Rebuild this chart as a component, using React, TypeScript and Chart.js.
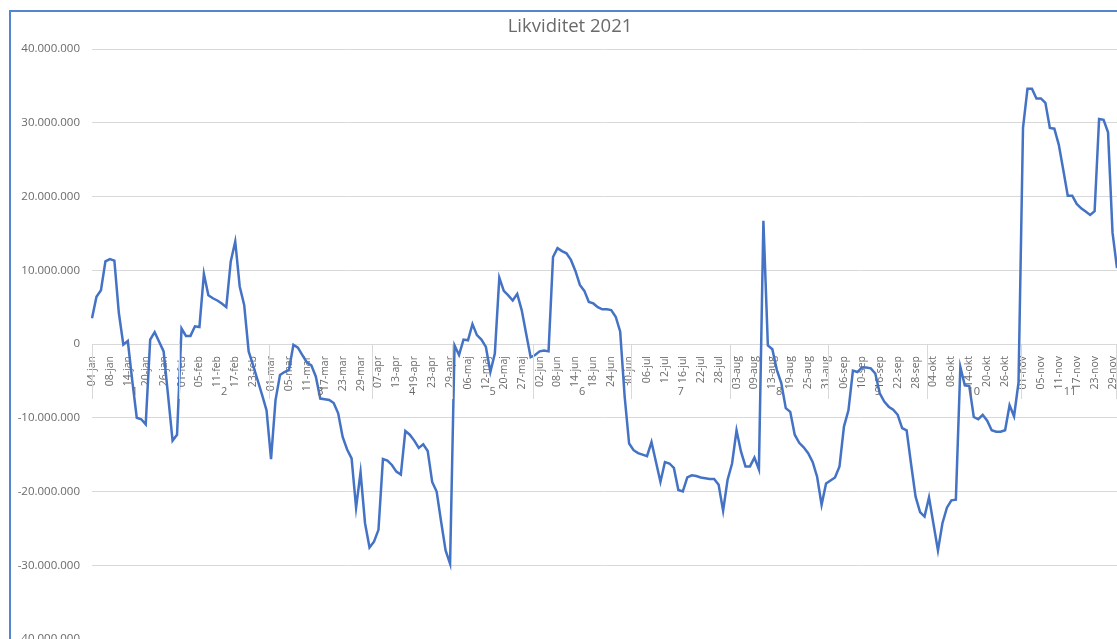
import React, { useEffect, useRef } from 'react';
import { Chart, registerables } from 'chart.js';

Chart.register(...registerables);

const TITLE = 'Likviditet 2021';

const dates = [
  '04-jan','05-jan','06-jan','07-jan','08-jan','11-jan','12-jan','13-jan','14-jan','15-jan','18-jan','19-jan','20-jan','21-jan','22-jan','25-jan','26-jan','27-jan','28-jan','29-jan',
  '01-feb','02-feb','03-feb','04-feb','05-feb','08-feb','09-feb','10-feb','11-feb','12-feb','15-feb','16-feb','17-feb','18-feb','19-feb','22-feb','23-feb','24-feb','25-feb','26-feb',
  '01-mar','02-mar','03-mar','04-mar','05-mar','08-mar','09-mar','10-mar','11-mar','12-mar','15-mar','16-mar','17-mar','18-mar','19-mar','22-mar','23-mar','24-mar','25-mar','26-mar','29-mar','30-mar','31-mar',
  '06-apr','07-apr','08-apr','09-apr','12-apr','13-apr','14-apr','15-apr','16-apr','19-apr','20-apr','21-apr','22-apr','23-apr','26-apr','27-apr','28-apr','29-apr',
  '03-maj','04-maj','05-maj','06-maj','07-maj','10-maj','11-maj','12-maj','17-maj','18-maj','19-maj','20-maj','21-maj','25-maj','26-maj','27-maj','28-maj','31-maj',
  '01-jun','02-jun','03-jun','04-jun','07-jun','08-jun','09-jun','10-jun','11-jun','14-jun','15-jun','16-jun','17-jun','18-jun','21-jun','22-jun','23-jun','24-jun','25-jun','28-jun','29-jun','30-jun',
  '01-jul','02-jul','05-jul','06-jul','07-jul','08-jul','09-jul','12-jul','13-jul','14-jul','15-jul','16-jul','19-jul','20-jul','21-jul','22-jul','23-jul','26-jul','27-jul','28-jul','29-jul','30-jul',
  '02-aug','03-aug','04-aug','05-aug','06-aug','09-aug','10-aug','11-aug','12-aug','13-aug','16-aug','17-aug','18-aug','19-aug','20-aug','23-aug','24-aug','25-aug','26-aug','27-aug','30-aug','31-aug',
  '01-sep','02-sep','03-sep','06-sep','07-sep','08-sep','09-sep','10-sep','13-sep','14-sep','15-sep','16-sep','17-sep','20-sep','21-sep','22-sep','23-sep','24-sep','27-sep','28-sep','29-sep','30-sep',
  '01-okt','04-okt','05-okt','06-okt','07-okt','08-okt','11-okt','12-okt','13-okt','14-okt','15-okt','18-okt','19-okt','20-okt','21-okt','22-okt','25-okt','26-okt','27-okt','28-okt','29-okt',
  '01-nov','02-nov','03-nov','04-nov','05-nov','08-nov','09-nov','10-nov','11-nov','12-nov','15-nov','16-nov','17-nov','18-nov','19-nov','22-nov','23-nov','24-nov','25-nov','26-nov','29-nov','30-nov',
];

const monthLabels = ['1', '2', '3', '4', '5', '6', '7', '8', '9', '10', '11'];

const liquidity = [
  // jan
  3500000, 6400000, 7300000, 11200000, 11500000, 11300000, 4200000, -100000, 400000, -5000000,
  -10000000, -10200000, -10900000, 600000, 1600000, 300000, -1000000, -7000000, -13100000, -12300000,
  // feb
  2100000, 1100000, 1100000, 2400000, 2300000, 9500000, 6600000, 6200000, 5900000, 5500000,
  5000000, 11200000, 13900000, 7800000, 5300000, -1000000, -2900000, -4900000, -6900000, -9000000,
  // mar
  -15600000, -7600000, -4200000, -3800000, -3500000, -100000, -500000, -1500000, -2500000, -2900000,
  -4400000, -7400000, -7500000, -7600000, -8000000, -9400000, -12600000, -14300000, -15500000, -22200000,
  -17400000, -24300000, -27600000,
  // apr
  -26800000, -25200000, -15600000, -15800000, -16400000, -17300000, -17700000, -11800000, -12300000, -13100000,
  -14100000, -13600000, -14500000, -18700000, -20000000, -24100000, -28000000, -29800000,
  // maj
  -200000, -1500000, 600000, 500000, 2700000, 1200000, 600000, -400000, -3800000, -1300000,
  9000000, 7200000, 6600000, 5900000, 6800000, 4600000, 1400000, -1800000,
  // jun
  -1500000, -1000000, -900000, -1000000, 11800000, 13000000, 12600000, 12300000, 11400000, 9900000,
  8000000, 7200000, 5700000, 5500000, 5000000, 4700000, 4700000, 4600000, 3700000, 1700000,
  -7100000, -13500000,
  // jul
  -14400000, -14800000, -15000000, -15200000, -13300000, -16000000, -18700000, -16000000, -16200000, -16800000,
  -19800000, -20000000, -18100000, -17800000, -17900000, -18100000, -18200000, -18300000, -18300000, -19100000,
  -22600000, -18400000,
  // aug
  -16200000, -11700000, -14600000, -16600000, -16600000, -15400000, -17000000, 16700000, -200000, -700000,
  -3500000, -5300000, -8700000, -9200000, -12300000, -13400000, -14000000, -14800000, -16000000, -18000000,
  -21800000, -18900000,
  // sep
  -18500000, -18100000, -16600000, -11200000, -9000000, -3600000, -3800000, -3200000, -3200000, -3300000,
  -4000000, -6700000, -7800000, -8500000, -8900000, -9600000, -11400000, -11700000, -16300000, -20700000,
  -22800000, -23400000,
  // okt
  -20800000, -24400000, -28000000, -24300000, -22200000, -21200000, -21100000, -3100000, -5600000, -5700000,
  -9900000, -10200000, -9600000, -10400000, -11700000, -11900000, -11900000, -11700000, -8300000, -9800000,
  -5200000,
  // nov
  29300000, 34600000, 34600000, 33300000, 33300000, 32700000, 29300000, 29200000, 27000000, 23600000,
  20100000, 20100000, 19000000, 18400000, 17950000, 17500000, 18000000, 30500000, 30400000, 28700000,
  15100000, 10300000,
];

const Y_MIN = -40000000;
const Y_MAX = 40000000;
const Y_STEP = 10000000;

const FONT = "'Open Sans', 'Liberation Sans', sans-serif";
const TEXT_GREY = '#6a6a6a';
const GRID_GREY = '#d9d9d9';
const LINE_BLUE = '#4472c4';

function formatThousands(v: number): string {
  const s = String(Math.abs(Math.round(v))).replace(/\B(?=(\d{3})+(?!\d))/g, '.');
  return v < 0 ? '-' + s : s;
}

// Title centred on the whole chart object (canvas), as in the Excel chart.
const titlePlugin = {
  id: 'centeredTitle',
  afterDraw(chart: any) {
    const ctx = chart.ctx;
    ctx.save();
    ctx.fillStyle = TEXT_GREY;
    ctx.font = `18.5px ${FONT}`;
    ctx.textAlign = 'center';
    ctx.textBaseline = 'middle';
    ctx.fillText(TITLE, chart.width / 2, chart.chartArea.top - 22);
    ctx.restore();
  },
};

const monthGroupPlugin = {
  id: 'monthGroups',
  afterDraw(chart: any) {
    const xs = chart.scales.x;
    const ys = chart.scales.y;
    const ctx = chart.ctx;
    const area = chart.chartArea;
    const y0 = ys.getPixelForValue(0);
    const groups: { m: string; from: number; to: number }[] = [];
    dates.forEach((d, i) => {
      const m = d.slice(3);
      const last = groups[groups.length - 1];
      if (!last || last.m !== m) groups.push({ m, from: i, to: i });
      else last.to = i;
    });
    ctx.save();
    ctx.strokeStyle = GRID_GREY;
    ctx.lineWidth = 1;
    ctx.fillStyle = TEXT_GREY;
    ctx.font = `11px ${FONT}`;
    ctx.textAlign = 'center';
    ctx.textBaseline = 'middle';
    groups.forEach((g, k) => {
      const left = k === 0 ? area.left : (xs.getPixelForValue(g.from - 1) + xs.getPixelForValue(g.from)) / 2;
      const right = k === groups.length - 1 ? area.right : (xs.getPixelForValue(g.to) + xs.getPixelForValue(g.to + 1)) / 2;
      const xl = Math.round(left) + 0.5;
      ctx.beginPath();
      ctx.moveTo(xl, y0);
      ctx.lineTo(xl, y0 + 55);
      ctx.stroke();
      const center = (xs.getPixelForValue(g.from) + xs.getPixelForValue(g.to)) / 2;
      ctx.fillText(monthLabels[k] ?? '', center, y0 + 48);
      if (k === groups.length - 1) {
        const xr = Math.round(right) - 0.5;
        ctx.beginPath();
        ctx.moveTo(xr, y0);
        ctx.lineTo(xr, y0 + 55);
        ctx.stroke();
      }
    });
    ctx.restore();
  },
};

export default function App() {
  const canvasRef = useRef<HTMLCanvasElement | null>(null);

  useEffect(() => {
    document.body.style.margin = '0';
    const canvas = canvasRef.current;
    if (!canvas) return;
    const chart = new Chart(canvas, {
      type: 'line',
      data: {
        labels: dates,
        datasets: [
          {
            label: TITLE,
            data: liquidity,
            borderColor: LINE_BLUE,
            backgroundColor: LINE_BLUE,
            borderWidth: 2.5,
            pointRadius: 0,
            tension: 0,
            fill: false,
          },
        ],
      },
      options: {
        responsive: false,
        animation: false,
        devicePixelRatio: 1,
        layout: { padding: { left: 0, right: 23, top: 49, bottom: 21 } },
        plugins: {
          legend: { display: false },
          tooltip: { enabled: false },
          title: { display: false },
        },
        scales: {
          x: {
            type: 'category',
            position: { y: 0 } as any,
            offset: false,
            grid: { display: false },
            border: { display: true, color: GRID_GREY, width: 1 },
            ticks: {
              autoSkip: false,
              minRotation: 90,
              maxRotation: 90,
              padding: 4,
              color: TEXT_GREY,
              font: { family: FONT, size: 10.5 },
              callback: (_v: any, i: number) => (i % 4 === 0 ? dates[i] : ''),
            },
          },
          y: {
            min: Y_MIN,
            max: Y_MAX,
            afterFit: (scale: any) => {
              scale.width = 92;
            },
            grid: { color: GRID_GREY, lineWidth: 1, drawTicks: false },
            border: { display: false },
            ticks: {
              stepSize: Y_STEP,
              padding: 12,
              color: TEXT_GREY,
              font: { family: FONT, size: 11.5 },
              callback: (v: any) => formatThousands(Number(v)),
            },
          },
        },
      },
      plugins: [monthGroupPlugin, titlePlugin],
    });
    return () => chart.destroy();
  }, []);

  return (
    <div
      style={{
        position: 'fixed',
        left: 0,
        top: 0,
        width: 1117,
        height: 639,
        overflow: 'hidden',
        background: '#ffffff',
      }}
    >
      <div style={{ position: 'absolute', left: 0, top: 0 }}>
        <canvas ref={canvasRef} width={1140} height={660} />
      </div>
      <div
        style={{
          position: 'absolute',
          left: 9,
          top: 10,
          width: 1200,
          height: 700,
          borderLeft: '2px solid #5585cc',
          borderTop: '2px solid #5585cc',
          pointerEvents: 'none',
        }}
      />
    </div>
  );
}
